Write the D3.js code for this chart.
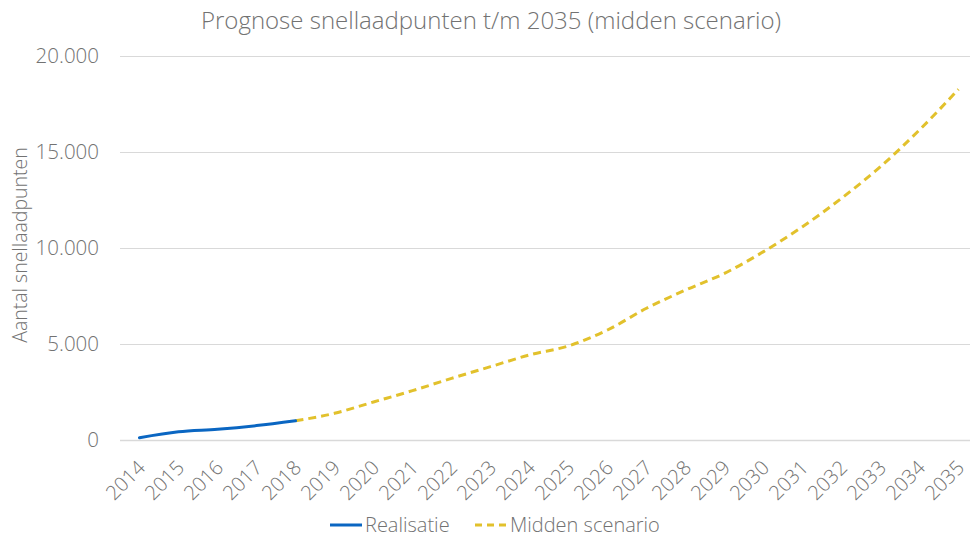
<!DOCTYPE html>
<html lang="nl">
  <head>
    <meta charset="utf-8">
    <title>Prognose snellaadpunten t/m 2035</title>
    <script src="https://d3js.org/d3.v7.min.js"></script>
    <style>
      body { margin: 0; background: #fff; }
      svg text { font-family: "Open Sans", "Liberation Sans", sans-serif; font-weight: 300; fill: #727272; }
    </style>
  </head>
  <body>
    <svg></svg>
    <script>
    // data
    const years = d3.range(2014, 2036).map(String)
    const realisatieYears = ['2014', '2015', '2016', '2017', '2018']
    const realisatie = [120, 430, 560, 750, 1000]
    const middenYears = ['2018', '2019', '2020', '2021', '2022', '2023', '2024', '2025', '2026',
      '2027', '2028', '2029', '2030', '2031', '2032', '2033', '2034', '2035']
    const midden = [1000, 1390, 1980, 2570, 3210, 3820, 4430, 4900, 5730,
      6860, 7810, 8680, 9810, 11110, 12590, 14240, 16150, 18270]
    const yTicks = [0, 5000, 10000, 15000, 20000]

    const width = 972
    const height = 540

    const svg = d3.select('svg')
      .attr('width', width)
      .attr('height', height)

    const x = d3.scaleBand()
      .domain(years)
      .range([120, 978])

    const y = d3.scaleLinear()
      .domain([0, 20000])
      .range([440, 56])

    const fmt = d3.formatLocale({ decimal: ',', thousands: '.', grouping: [3], currency: ['€', ''] }).format(',')

    // gridlines
    svg.append('g')
      .selectAll('line')
      .data(yTicks)
      .join('line')
        .attr('x1', 120)
        .attr('x2', 970)
        .attr('y1', d => Math.round(y(d)) + 0.5)
        .attr('y2', d => Math.round(y(d)) + 0.5)
        .attr('stroke', '#d9d9d9')
        .attr('stroke-width', d => d === 0 ? 1.5 : 1)

    // y tick labels
    svg.append('g')
      .selectAll('text')
      .data(yTicks)
      .join('text')
        .attr('x', 99)
        .attr('y', d => y(d))
        .attr('dy', '0.35em')
        .attr('text-anchor', 'end')
        .style('font-size', '20.5px')
        .text(d => fmt(d))

    // x tick labels, rotated
    svg.append('g')
      .selectAll('text')
      .data(years)
      .join('text')
        .attr('transform', d => `translate(${x(d) + x.bandwidth() / 2 + 7}, 469) rotate(-45)`)
        .attr('text-anchor', 'end')
        .style('font-size', '20px')
        .text(d => d)

    const cx = d => x(d) + x.bandwidth() / 2

    const line = d3.line()
      .x(d => cx(d[0]))
      .y(d => y(d[1]))
      .curve(d3.curveMonotoneX)

    svg.append('path')
      .datum(d3.zip(middenYears, midden))
      .attr('fill', 'none')
      .attr('stroke', '#e2c12c')
      .attr('stroke-width', 3)
      .attr('stroke-dasharray', '8,5')
      .attr('d', line)

    svg.append('path')
      .datum(d3.zip(realisatieYears, realisatie))
      .attr('fill', 'none')
      .attr('stroke', '#0a66c2')
      .attr('stroke-width', 3)
      .attr('stroke-linecap', 'round')
      .attr('d', line)

    // title
    svg.append('text')
      .attr('x', 491)
      .attr('y', 29)
      .attr('text-anchor', 'middle')
      .style('font-size', '24px')
      .text('Prognose snellaadpunten t/m 2035 (midden scenario)')

    // y axis title
    svg.append('text')
      .attr('transform', 'translate(27, 245) rotate(-90)')
      .attr('text-anchor', 'middle')
      .style('font-size', '19.5px')
      .text('Aantal snellaadpunten')

    // legend
    const legend = svg.append('g')
      .attr('transform', 'translate(0, 525)')

    legend.append('line')
      .attr('x1', 330).attr('x2', 362)
      .attr('stroke', '#0a66c2').attr('stroke-width', 3)
    legend.append('text')
      .attr('x', 365).attr('dy', '0.35em')
      .style('font-size', '20px')
      .text('Realisatie')

    legend.append('line')
      .attr('x1', 475).attr('x2', 506)
      .attr('stroke', '#e2c12c').attr('stroke-width', 3)
      .attr('stroke-dasharray', '7,5')
    legend.append('text')
      .attr('x', 510).attr('dy', '0.35em')
      .style('font-size', '20px')
      .text('Midden scenario')
    </script>
  </body>
</html>
